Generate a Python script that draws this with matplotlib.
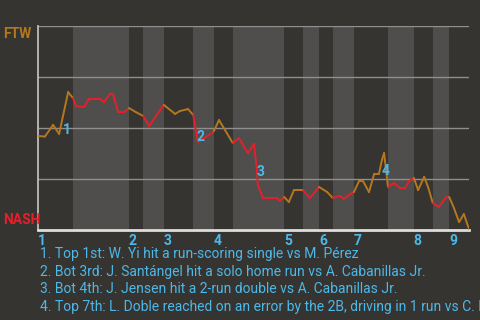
import numpy as np
import matplotlib.pyplot as plt

# ------------------------------------------------------------
# Données : probabilité de victoire de FTW, jeu par jeu
# ------------------------------------------------------------
plays = [0, 1.6, 3.5, 4.9, 7.0, 8.1, 8.8, 10.7, 11.8, 14.4, 15.3, 16.7, 17.4,
         18.6, 20.0, 21.1, 22.7, 24.4, 25.8, 29.0, 29.2, 31.8, 32.9, 34.8,
         36.0, 37.1, 40.4, 40.8, 42.0, 45.2, 46.6, 48.7, 50.1, 50.8, 51.0,
         52.2, 55.5, 56.1, 57.1, 58.2, 59.4, 61.3, 61.5, 63.1, 65.2, 67.1,
         68.4, 70.1, 71.0, 72.4, 73.3, 74.5, 75.4, 76.8, 78.0, 79.1, 79.8,
         80.3, 80.7, 81.2, 82.6, 84.0, 85.2, 86.1, 87.2, 88.2, 89.6, 90.5,
         91.6, 93.0, 94.7, 95.4, 96.5, 97.7, 98.8, 100]
wp_ftw = [0.461, 0.458, 0.515, 0.471, 0.676, 0.647, 0.608, 0.603, 0.642,
          0.642, 0.627, 0.667, 0.667, 0.578, 0.578, 0.598, 0.578, 0.559,
          0.510, 0.608, 0.613, 0.569, 0.583, 0.593, 0.564, 0.431, 0.475,
          0.485, 0.539, 0.426, 0.451, 0.377, 0.422, 0.294, 0.221, 0.157,
          0.157, 0.142, 0.162, 0.137, 0.196, 0.196, 0.194, 0.157, 0.211,
          0.186, 0.157, 0.167, 0.152, 0.176, 0.186, 0.240, 0.240, 0.186,
          0.275, 0.275, 0.343, 0.377, 0.304, 0.211, 0.230, 0.206, 0.206,
          0.240, 0.255, 0.196, 0.260, 0.211, 0.132, 0.113, 0.162, 0.162,
          0.108, 0.039, 0.078, 0.005]

# débuts de chaque demi-manche (haut 1re, bas 1re, haut 2e, ...)
demi_manches = [0, 8.1, 21.1, 24.4, 29.2, 36.0, 40.8, 45.2, 57.1, 61.5,
                65.2, 68.4, 73.3, 81.2, 87.2, 91.6, 95.4, 100]
manches = ["1", "2", "3", "4", "5", "6", "7", "8", "9"]

evt_x = [6.7, 37.6, 51.7, 80.7]
evt_y = [0.49, 0.456, 0.284, 0.289]
evt_txt = [
    "1. Top 1st: W. Yi hit a run-scoring single vs M. Pérez",
    "2. Bot 3rd: J. Santángel hit a solo home run vs A. Cabanillas Jr.",
    "3. Bot 4th: J. Jensen hit a 2-run double vs A. Cabanillas Jr.",
    "4. Top 7th: L. Doble reached on an error by the 2B, driving in 1 run vs C. Ramírez",
]

# ------------------------------------------------------------
# Style
# ------------------------------------------------------------
fond = "#363430"
bande = "#4f4e4c"
orange = "#b5771f"
rouge = "#e5202b"
bleu = "#4db8ea"
plt.rcParams['font.family'] = ['Roboto', 'DejaVu Sans']

fig = plt.figure(figsize=(4.8, 3.2), dpi=100, facecolor=fond)
ax = fig.add_axes([38/480, 90/320, 431/480, 204/320], facecolor=fond)

# bandes pour le bas des manches
for i in range(1, len(demi_manches) - 1, 2):
    ax.axvspan(demi_manches[i], demi_manches[i + 1], color=bande, lw=0, zorder=0)

for y in [0.25, 0.5, 0.75, 1.0]:
    ax.axhline(y, color="#8f8f8f", lw=1, zorder=1)

# courbe colorée selon l'équipe au bâton
x = np.array(plays)
y = np.array(wp_ftw)
for k in range(len(x) - 1):
    mid = (x[k] + x[k + 1]) / 2
    idx = np.searchsorted(demi_manches, mid) - 1
    c = orange if idx % 2 == 0 else rouge
    ax.plot(x[k:k + 2], y[k:k + 2], color=c, lw=1.4, zorder=3,
            solid_capstyle='round')

for i, (ex, ey) in enumerate(zip(evt_x, evt_y)):
    ax.text(ex, ey, str(i + 1), color=bleu, fontsize=10, fontweight='bold',
            ha='center', va='center', zorder=4)

ax.set_xlim(0, 100)
ax.set_ylim(0, 1)
ax.set_xticks([])
ax.set_yticks([])
for s in ['top', 'right']:
    ax.spines[s].set_visible(False)
ax.spines['left'].set_color("#c8c8c8")
ax.spines['left'].set_linewidth(1.2)
ax.spines['bottom'].set_color("#dddddd")
ax.spines['bottom'].set_linewidth(2)

# numéros de manche
trans = ax.get_xaxis_transform()
for m, xm in zip(manches, demi_manches[::2]):
    ax.text(xm, -0.018, m, transform=trans, color=bleu, fontsize=10,
            fontweight='bold', ha='left', va='top')

fig.text(3/480, 1 - 27/320, "FTW", color=orange, fontsize=10,
         fontweight='bold', ha='left', va='top')
fig.text(3/480, 1 - 227/320, "NASH", color=rouge, fontsize=10,
         fontweight='bold', ha='left', va='bottom')

for i, t in enumerate(evt_txt):
    fig.text(40/480, 1 - (254 + 17.6 * i)/320, t, color=bleu, fontsize=10,
             ha='left', va='center')

fig.savefig("out.png", dpi=100, facecolor=fond)
